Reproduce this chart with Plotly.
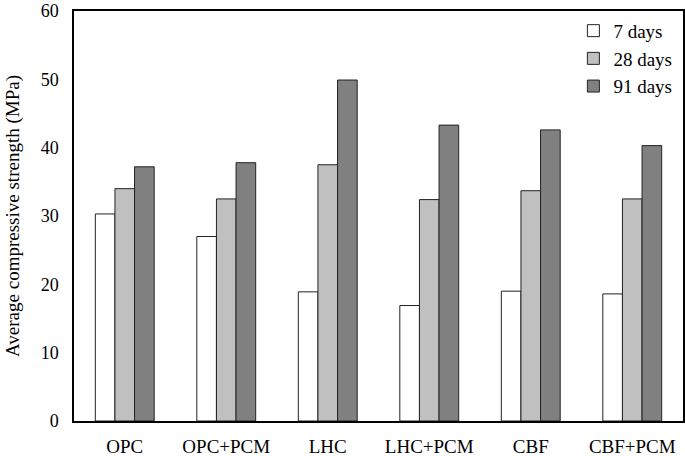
import plotly.graph_objects as go

categories = ["OPC", "OPC+PCM", "LHC", "LHC+PCM", "CBF", "CBF+PCM"]
series_names = ["7 days", "28 days", "91 days"]
days7 = [30.3, 27.0, 18.9, 16.9, 19.0, 18.6]
days28 = [34.0, 32.5, 37.5, 32.4, 33.7, 32.5]
days91 = [37.2, 37.8, 49.9, 43.3, 42.6, 40.3]
colors = ["#ffffff", "#c0c0c0", "#808080"]
y_ticks = [0, 10, 20, 30, 40, 50, 60]

font = "Liberation Serif"
fig = go.Figure()
for name, vals, col in zip(series_names, [days7, days28, days91], colors):
    fig.add_trace(go.Bar(
        x=categories, y=vals, name=name,
        marker=dict(color=col, line=dict(color="#222222", width=1)),
    ))

fig.update_layout(
    width=685, height=456,
    margin=dict(l=74, r=2, t=11, b=35),
    paper_bgcolor="white", plot_bgcolor="white",
    barmode="group", bargap=0.42, bargroupgap=0,
    font=dict(family=font, size=18, color="black"),
    showlegend=True,
    legend=dict(x=0.82, y=0.998, xanchor="left", yanchor="top",
                bgcolor="rgba(0,0,0,0)", borderwidth=0,
                font=dict(family=font, size=19), tracegroupgap=0,
                itemwidth=30),
    xaxis=dict(showline=True, linecolor="black", linewidth=1.5, mirror=True,
               ticks="", showgrid=False, ticklabelstandoff=7, automargin=False,
               tickfont=dict(family=font, size=19)),
    yaxis=dict(range=[0, 60], tickvals=y_ticks, showline=True, linecolor="black",
               linewidth=1.5, mirror=True, ticks="", showgrid=False, automargin=False,
               ticklabelstandoff=10, tickfont=dict(family=font, size=18),
               title=dict(text="Average compressive strength (MPa)",
                          font=dict(family=font, size=19), standoff=16)),
)
fig.write_html("out.html", post_script="document.body.style.margin='0';",
               config={"displayModeBar": False})
